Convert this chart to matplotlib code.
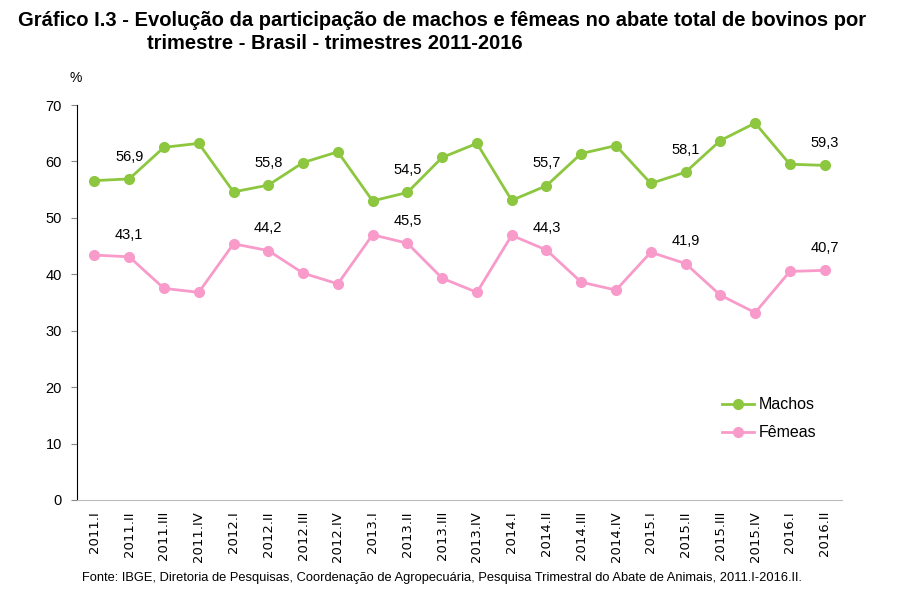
import numpy as np
import matplotlib.pyplot as plt

# dados (%)
trimestres = ['2011.I', '2011.II', '2011.III', '2011.IV',
              '2012.I', '2012.II', '2012.III', '2012.IV',
              '2013.I', '2013.II', '2013.III', '2013.IV',
              '2014.I', '2014.II', '2014.III', '2014.IV',
              '2015.I', '2015.II', '2015.III', '2015.IV',
              '2016.I', '2016.II']
machos = [56.6, 56.9, 62.5, 63.2, 54.6, 55.8, 59.8, 61.7, 53.0, 54.5, 60.7,
          63.2, 53.1, 55.7, 61.4, 62.8, 56.1, 58.1, 63.7, 66.8, 59.5, 59.3]
femeas = [43.4, 43.1, 37.5, 36.8, 45.4, 44.2, 40.2, 38.3, 47.0, 45.5, 39.3,
          36.8, 46.9, 44.3, 38.6, 37.2, 43.9, 41.9, 36.3, 33.2, 40.5, 40.7]
rotulados = [1, 5, 9, 13, 17, 21]  # pontos com valor escrito

verde = '#8dc63f'
rosa = '#f89bca'

plt.rcParams['font.family'] = ['Liberation Sans', 'DejaVu Sans']

fig = plt.figure(figsize=(9, 6), dpi=100)
ax = fig.add_axes([0.0856, 0.1667, 0.85, 0.6583])

x = np.arange(len(trimestres))
ax.plot(x, machos, '-o', color=verde, lw=2, ms=7, label='Machos')
ax.plot(x, femeas, '-o', color=rosa, lw=2, ms=7, label='Fêmeas')

for i in rotulados:
    for serie in (machos, femeas):
        ax.annotate(f'{serie[i]:.1f}'.replace('.', ','), (x[i], serie[i]),
                    xytext=(0, 11), textcoords='offset points',
                    ha='center', va='bottom', fontsize=10.5)

ax.set_xlim(-0.5, len(trimestres) - 0.5)
ax.set_ylim(0, 70)
ax.set_yticks(range(0, 71, 10))
ax.set_xticks(x)
ax.set_xticklabels(trimestres, rotation=90, fontsize=9.5,
                   family='DejaVu Sans')
ax.tick_params(axis='x', length=0, pad=8)
ax.tick_params(axis='y', length=4, color='#888888', labelsize=10.5, pad=7)
ax.spines['top'].set_visible(False)
ax.spines['right'].set_visible(False)
ax.spines['bottom'].set_color('#bbbbbb')
ax.spines['left'].set_color('black')

ax.text(-0.01, 1.05, '%', transform=ax.transAxes, fontsize=10,
        ha='left', va='bottom')

ax.legend(loc='lower right', bbox_to_anchor=(0.985, 0.115), frameon=False,
          fontsize=11.5, handlelength=2.0, labelspacing=0.8,
          handletextpad=0.3)

fig.text(0.02, 0.965, 'Gráfico I.3 - Evolução da participação de machos e '
         'fêmeas no abate total de bovinos por', fontsize=14.5,
         fontweight='bold', va='center')
fig.text(0.163, 0.928, 'trimestre - Brasil - trimestres 2011-2016',
         fontsize=14.5, fontweight='bold', va='center')
fig.text(0.091, 0.037, 'Fonte: IBGE, Diretoria de Pesquisas, Coordenação de '
         'Agropecuária, Pesquisa Trimestral do Abate de Animais, '
         '2011.I-2016.II.', fontsize=9.3, va='center')

fig.savefig('out.png', dpi=100)
